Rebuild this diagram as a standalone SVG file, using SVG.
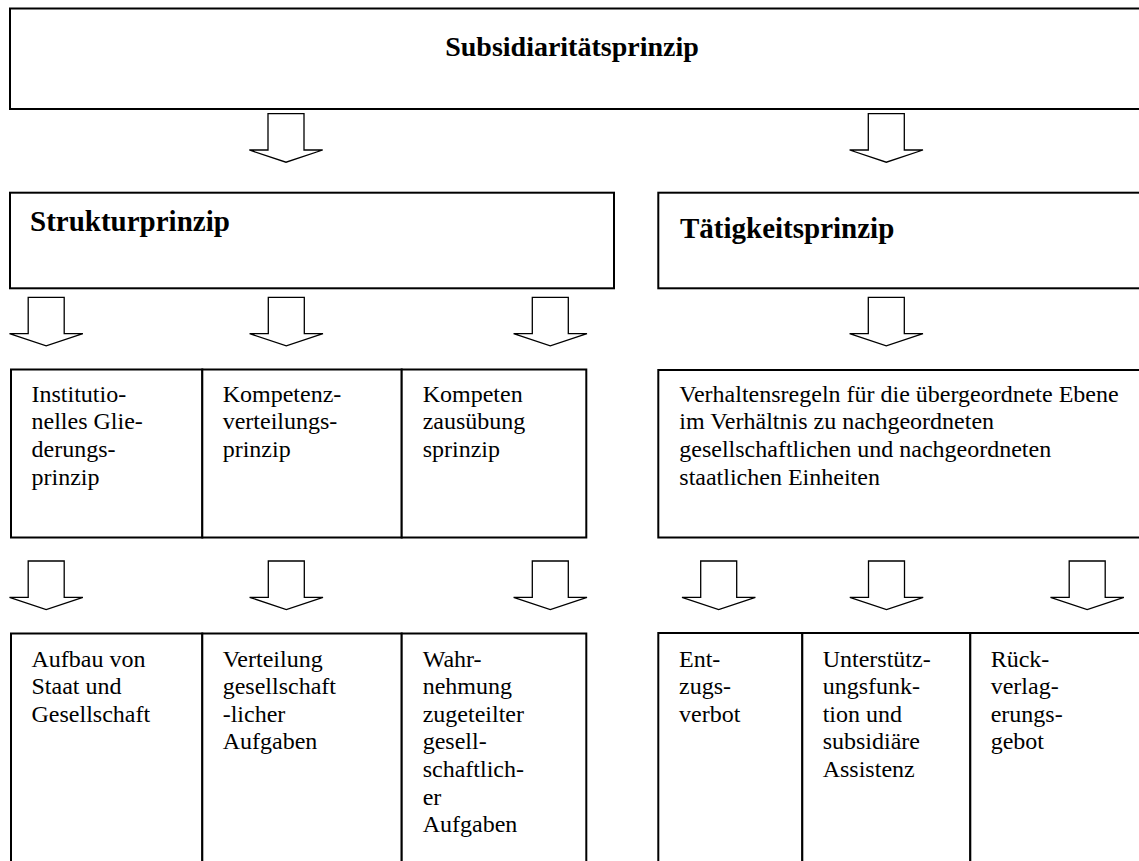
<svg xmlns="http://www.w3.org/2000/svg" width="1139" height="861" viewBox="0 0 1139 861" xmlns:xlink="http://www.w3.org/1999/xlink">
<style>
.box{fill:#fff;stroke:#000;stroke-width:2}
.arr{fill:#fff;stroke:#000;stroke-width:1.3;stroke-linejoin:miter}
.t{font-family:"Liberation Serif","Times New Roman",serif;font-size:24px;fill:#000}
.b{font-family:"Liberation Serif","Times New Roman",serif;font-size:29px;font-weight:bold;fill:#000}
.h{font-size:28px}
</style>
<defs>
<path id="dn" d="M-18,0 H18 V36.3 H36.7 L0,48.5 L-36.7,36.3 H-18 Z"/>
</defs>
<rect width="1139" height="861" fill="#fff"/>

<g id="connectors">
<use xlink:href="#dn" href="#dn" class="arr" x="286" y="113.7"/>
<use xlink:href="#dn" href="#dn" class="arr" x="886.3" y="113.7"/>
<use xlink:href="#dn" href="#dn" class="arr" x="46.2" y="297.3"/>
<use xlink:href="#dn" href="#dn" class="arr" x="286.3" y="297.3"/>
<use xlink:href="#dn" href="#dn" class="arr" x="550.3" y="297.3"/>
<use xlink:href="#dn" href="#dn" class="arr" x="886.3" y="297.3"/>
<use xlink:href="#dn" href="#dn" class="arr" x="46.2" y="561"/>
<use xlink:href="#dn" href="#dn" class="arr" x="286.3" y="561"/>
<use xlink:href="#dn" href="#dn" class="arr" x="550.3" y="561"/>
<use xlink:href="#dn" href="#dn" class="arr" x="718.7" y="561"/>
<use xlink:href="#dn" href="#dn" class="arr" x="886.5" y="561"/>
<use xlink:href="#dn" href="#dn" class="arr" x="1087.2" y="561"/>
</g>

<g id="subsidiaritaet">
<rect class="box" x="10" y="8.5" width="1140" height="100.5"/>
<text class="b h" x="572" y="56" text-anchor="middle">Subsidiaritätsprinzip</text>
</g>

<g id="strukturprinzip">
<rect class="box" x="10" y="192.7" width="604" height="95.6"/>
<text class="b" x="30" y="230.7">Strukturprinzip</text>
</g>

<g id="taetigkeitsprinzip">
<rect class="box" x="658.3" y="192.7" width="500" height="95.6"/>
<text class="b" x="680" y="238.3">Tätigkeitsprinzip</text>
</g>

<g id="institutionelles">
<rect class="box" x="11" y="369.5" width="191.3" height="168"/>
<text class="t" x="31.5" y="401.7"><tspan x="31.5">Institutio-</tspan><tspan x="31.5" dy="27.6">nelles Glie-</tspan><tspan x="31.5" dy="27.6">derungs-</tspan><tspan x="31.5" dy="27.6">prinzip</tspan></text>
</g>

<g id="kompetenzverteilung">
<rect class="box" x="202.3" y="369.5" width="199.4" height="168"/>
<text class="t" x="222.7" y="401.7"><tspan x="222.7">Kompetenz-</tspan><tspan x="222.7" dy="27.6">verteilungs-</tspan><tspan x="222.7" dy="27.6">prinzip</tspan></text>
</g>

<g id="kompetenzausuebung">
<rect class="box" x="401.7" y="369.5" width="184.6" height="168"/>
<text class="t" x="422.7" y="401.7"><tspan x="422.7">Kompeten</tspan><tspan x="422.7" dy="27.6">zausübung</tspan><tspan x="422.7" dy="27.6">sprinzip</tspan></text>
</g>

<g id="verhaltensregeln">
<rect class="box" x="658.3" y="370" width="500" height="167.5"/>
<text class="t" x="679.3" y="401.7"><tspan x="679.3">Verhaltensregeln für die übergeordnete Ebene</tspan><tspan x="679.3" dy="27.6">im Verhältnis zu nachgeordneten</tspan><tspan x="679.3" dy="27.6">gesellschaftlichen und nachgeordneten</tspan><tspan x="679.3" dy="27.6">staatlichen Einheiten</tspan></text>
</g>

<g id="aufbau">
<rect class="box" x="11" y="633.5" width="191.3" height="240"/>
<text class="t" x="31.5" y="666.5"><tspan x="31.5">Aufbau von</tspan><tspan x="31.5" dy="27.6">Staat und</tspan><tspan x="31.5" dy="27.6">Gesellschaft</tspan></text>
</g>

<g id="verteilung">
<rect class="box" x="202.3" y="633.5" width="199.4" height="240"/>
<text class="t" x="222.7" y="666.5"><tspan x="222.7">Verteilung</tspan><tspan x="222.7" dy="27.6">gesellschaft</tspan><tspan x="222.7" dy="27.6">-licher</tspan><tspan x="222.7" dy="27.6">Aufgaben</tspan></text>
</g>

<g id="wahrnehmung">
<rect class="box" x="401.7" y="633.5" width="184.6" height="240"/>
<text class="t" x="422.7" y="666.5"><tspan x="422.7">Wahr-</tspan><tspan x="422.7" dy="27.6">nehmung</tspan><tspan x="422.7" dy="27.6">zugeteilter</tspan><tspan x="422.7" dy="27.6">gesell-</tspan><tspan x="422.7" dy="27.6">schaftlich-</tspan><tspan x="422.7" dy="27.6">er</tspan><tspan x="422.7" dy="27.6">Aufgaben</tspan></text>
</g>

<g id="entzugsverbot">
<rect class="box" x="658.3" y="633" width="144" height="240"/>
<text class="t" x="679" y="666.5"><tspan x="679">Ent-</tspan><tspan x="679" dy="27.6">zugs-</tspan><tspan x="679" dy="27.6">verbot</tspan></text>
</g>

<g id="unterstuetzung">
<rect class="box" x="802.3" y="633" width="168" height="240"/>
<text class="t" x="822.7" y="666.5"><tspan x="822.7">Unterstütz-</tspan><tspan x="822.7" dy="27.6">ungsfunk-</tspan><tspan x="822.7" dy="27.6">tion und</tspan><tspan x="822.7" dy="27.6">subsidiäre</tspan><tspan x="822.7" dy="27.6">Assistenz</tspan></text>
</g>

<g id="rueckverlagerung">
<rect class="box" x="970.3" y="633" width="190" height="240"/>
<text class="t" x="990.7" y="666.5"><tspan x="990.7">Rück-</tspan><tspan x="990.7" dy="27.6">verlag-</tspan><tspan x="990.7" dy="27.6">erungs-</tspan><tspan x="990.7" dy="27.6">gebot</tspan></text>
</g>
</svg>
